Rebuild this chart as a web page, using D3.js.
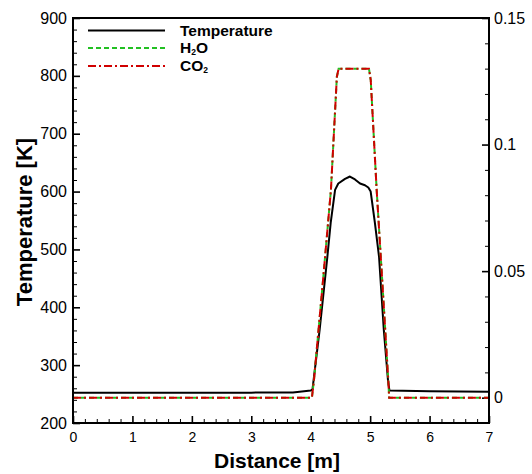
<!DOCTYPE html>
<html>
<head>
<meta charset="utf-8">
<script src="https://cdn.jsdelivr.net/npm/d3@7"></script>
<style>
  html, body { margin: 0; padding: 0; background: #fff; }
  svg { display: block; font-family: "Liberation Sans", Arial, Helvetica, sans-serif; }
</style>
</head>
<body>
<svg id="chart" width="532" height="474"></svg>
<script>
// Temperature profile along the duct [K]
const tempDistance = [0, 1, 2, 3, 3.7, 4.0, 4.03, 4.15, 4.28, 4.336, 4.41, 4.464, 4.577, 4.66, 4.745, 4.83, 4.913, 4.969, 5.009, 5.08, 5.15, 5.23, 5.30, 5.325, 6, 7];
const temperature  = [252.5, 252.5, 252.5, 252.5, 252.8, 256, 258, 361, 487, 546, 603, 614, 622, 626, 621, 614, 611, 607, 600, 546, 487, 361, 274, 256, 255, 254];

// Species mass fractions along the duct
const speciesDistance = [0, 4.02, 4.055, 4.2, 4.34, 4.44, 4.47, 4.98, 5.01, 5.11, 5.208, 5.305, 5.32, 7];
const h2oFraction = [0, 0, 0.007, 0.0445, 0.082, 0.1268, 0.13, 0.13, 0.1255, 0.082, 0.0445, 0.007, 0, 0];
const co2Fraction = [0, 0, 0.007, 0.0445, 0.082, 0.1268, 0.13, 0.13, 0.1255, 0.082, 0.0445, 0.007, 0, 0];

// Axis ticks
const xMajorTicks = [0, 1, 2, 3, 4, 5, 6, 7];
const tempMajorTicks = [200, 300, 400, 500, 600, 700, 800, 900];
const fracMajorTicks = [0, 0.05, 0.1, 0.15];
const fracTickLabels = ["0", "0.05", "0.1", "0.15"];

const svg = d3.select("#chart");
const plot = { left: 73, right: 489, top: 18, bottom: 423 };

const x = d3.scaleLinear().domain([0, 7]).range([plot.left, plot.right]);
const yT = d3.scaleLinear().domain([200, 900]).range([plot.bottom, plot.top]);
const yF = d3.scaleLinear().domain([-0.01, 0.15]).range([plot.bottom, plot.top]);

const xMinor = d3.range(0, 7.0001, 0.2).filter(v => Math.abs(v - Math.round(v)) > 1e-6);
const tMinor = d3.range(200, 900.001, 20).filter(v => v % 100 !== 0);
const fMinor = d3.range(0.01, 0.1451, 0.01).filter(v => Math.abs(v * 20 - Math.round(v * 20)) > 1e-6);

function styleAxis(g) {
  g.select(".domain").remove();
  g.selectAll(".tick line").attr("stroke", "#000").attr("stroke-width", 1.6);
  g.selectAll(".tick text").attr("fill", "#000");
}

// Bottom axis
svg.append("g").attr("transform", `translate(0,${plot.bottom})`)
  .call(d3.axisBottom(x).tickValues(xMinor).tickSize(-4).tickFormat(""))
  .call(g => { g.select(".domain").remove(); g.selectAll(".tick line").attr("stroke", "#000").attr("stroke-width", 1); });
svg.append("g").attr("transform", `translate(0,${plot.bottom})`)
  .call(d3.axisBottom(x).tickValues(xMajorTicks).tickSize(-7).tickPadding(9).tickFormat(d3.format("d")))
  .call(styleAxis)
  .call(g => g.selectAll(".tick text").attr("font-size", 14));

// Left axis (temperature)
svg.append("g").attr("transform", `translate(${plot.left},0)`)
  .call(d3.axisLeft(yT).tickValues(tMinor).tickSize(-4).tickFormat(""))
  .call(g => { g.select(".domain").remove(); g.selectAll(".tick line").attr("stroke", "#000").attr("stroke-width", 1); });
svg.append("g").attr("transform", `translate(${plot.left},0)`)
  .call(d3.axisLeft(yT).tickValues(tempMajorTicks).tickSize(-7).tickPadding(6).tickFormat(d3.format("d")))
  .call(styleAxis)
  .call(g => g.selectAll(".tick text").attr("font-size", 16));

// Right axis (mass fraction)
svg.append("g").attr("transform", `translate(${plot.right},0)`)
  .call(d3.axisRight(yF).tickValues(fMinor).tickSize(-4).tickFormat(""))
  .call(g => { g.select(".domain").remove(); g.selectAll(".tick line").attr("stroke", "#000").attr("stroke-width", 1); });
svg.append("g").attr("transform", `translate(${plot.right},0)`)
  .call(d3.axisRight(yF).tickValues(fracMajorTicks).tickSize(-7).tickPadding(5).tickFormat((d, i) => fracTickLabels[i]))
  .call(styleAxis)
  .call(g => g.selectAll(".tick text").attr("font-size", 16));

// Curves
svg.append("defs").append("clipPath").attr("id", "plotClip")
  .append("rect").attr("x", plot.left).attr("y", plot.top)
  .attr("width", plot.right - plot.left).attr("height", plot.bottom - plot.top);

const curves = svg.append("g").attr("clip-path", "url(#plotClip)");

const tempLine = d3.line().x((d, i) => x(tempDistance[i])).y(d => yT(d));
const fracLine = d3.line().x((d, i) => x(speciesDistance[i])).y(d => yF(d));

curves.append("path").datum(temperature).attr("d", tempLine)
  .attr("fill", "none").attr("stroke", "#000").attr("stroke-width", 2).attr("stroke-linejoin", "round");
curves.append("path").datum(h2oFraction).attr("d", fracLine)
  .attr("fill", "none").attr("stroke", "#22c022").attr("stroke-width", 2).attr("stroke-dasharray", "5,3");
curves.append("path").datum(co2Fraction).attr("d", fracLine)
  .attr("fill", "none").attr("stroke", "#d00000").attr("stroke-width", 2).attr("stroke-dasharray", "8,3,2,3");

// Frame
svg.append("rect").attr("x", plot.left).attr("y", plot.top)
  .attr("width", plot.right - plot.left).attr("height", plot.bottom - plot.top)
  .attr("fill", "none").attr("stroke", "#000").attr("stroke-width", 2);

// Axis titles
svg.append("text").attr("x", 277).attr("y", 468).attr("text-anchor", "middle")
  .attr("font-size", 21).attr("font-weight", "bold").text("Distance [m]");
svg.append("text").attr("transform", "translate(32,222) rotate(-90)").attr("text-anchor", "middle")
  .attr("font-size", 22).attr("font-weight", "bold").text("Temperature [K]");

// Legend
const legendItems = [
  { name: "Temperature", sub: null, tail: "", color: "#000", dash: null, y: 30.5 },
  { name: "H", sub: "2", tail: "O", color: "#22c022", dash: "5,3", y: 48 },
  { name: "CO", sub: "2", tail: "", color: "#d00000", dash: "8,3,2,3", y: 66 }
];
const legend = svg.append("g");
legendItems.forEach(item => {
  legend.append("line").attr("x1", 88).attr("x2", 165).attr("y1", item.y).attr("y2", item.y)
    .attr("stroke", item.color).attr("stroke-width", 2)
    .attr("stroke-dasharray", item.dash);
  const t = legend.append("text").attr("x", 180).attr("y", item.y + 5)
    .attr("font-size", 15.5).attr("font-weight", "bold").attr("fill", "#000");
  t.append("tspan").text(item.name);
  if (item.sub) {
    t.append("tspan").attr("font-size", 8.5).attr("dy", 2).text(item.sub);
    if (item.tail) t.append("tspan").attr("dy", -2).text(item.tail);
  }
});
</script>
</body>
</html>
